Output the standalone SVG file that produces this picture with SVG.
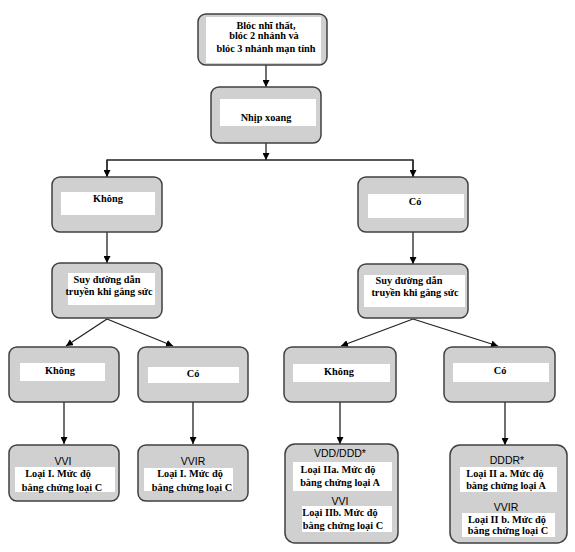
<svg xmlns="http://www.w3.org/2000/svg" width="575" height="552" viewBox="0 0 575 552">
<style>
.box{fill:#d0d0d0;stroke:#404040;stroke-width:1.5}
.in{fill:#ffffff}
.t{font-family:"Liberation Serif","Times New Roman",serif;font-weight:bold;font-size:10.3px;fill:#000;text-anchor:middle}
.a{font-family:"Liberation Sans",Arial,sans-serif;font-size:10.5px;fill:#000;text-anchor:middle}
.c{stroke:#222;stroke-width:1.3;fill:none}
</style>
<defs>
<marker id="ah" viewBox="0 0 10 10" refX="10" refY="5" markerWidth="7" markerHeight="7" orient="auto" markerUnits="userSpaceOnUse">
<path d="M0,0 L10,5 L0,10 z" fill="#000"/>
</marker>
</defs>
<rect width="575" height="552" fill="#fff"/>
<g id="connectors">
<line class="c" x1="266" y1="65" x2="266" y2="87" marker-end="url(#ah)"/>
<line class="c" x1="266" y1="143" x2="266" y2="160" marker-end="url(#ah)"/>
<polyline class="c" points="107,177 107,160 413,160 413,177"/>
<line class="c" x1="107" y1="160" x2="107" y2="177" marker-end="url(#ah)"/>
<line class="c" x1="413" y1="160" x2="413" y2="177" marker-end="url(#ah)"/>
<line class="c" x1="107" y1="232" x2="107" y2="263" marker-end="url(#ah)"/>
<line class="c" x1="413" y1="232" x2="413" y2="264" marker-end="url(#ah)"/>
<line class="c" x1="107" y1="319" x2="66" y2="346" marker-end="url(#ah)"/>
<line class="c" x1="107" y1="319" x2="173" y2="346" marker-end="url(#ah)"/>
<line class="c" x1="413" y1="319" x2="341" y2="346" marker-end="url(#ah)"/>
<line class="c" x1="413" y1="319" x2="498" y2="346" marker-end="url(#ah)"/>
<line class="c" x1="64" y1="402" x2="64" y2="444" marker-end="url(#ah)"/>
<line class="c" x1="193" y1="402" x2="193" y2="444" marker-end="url(#ah)"/>
<line class="c" x1="340" y1="402" x2="340" y2="444" marker-end="url(#ah)"/>
<line class="c" x1="505" y1="402" x2="505" y2="445" marker-end="url(#ah)"/>
</g>
<g id="n-bloc">
<rect class="box" x="198" y="14" width="129" height="51" rx="8"/>
<rect class="in" x="206" y="17" width="115" height="46"/>
<text class="t" x="266" y="29">Blóc nhĩ thất,</text>
<text class="t" x="264" y="39">blóc 2 nhánh và</text>
<text class="t" x="266" y="52">blóc 3 nhánh mạn tính</text>
</g>
<g id="n-nhip">
<rect class="box" x="211" y="87" width="110" height="56" rx="8"/>
<rect class="in" x="220" y="99" width="96" height="27"/>
<text class="t" x="266" y="121">Nhịp xoang</text>
</g>
<g id="n-khong1">
<rect class="box" x="52" y="177" width="110" height="55" rx="8"/>
<rect class="in" x="61" y="192" width="94" height="23"/>
<text class="t" x="108" y="202">Không</text>
</g>
<g id="n-co1">
<rect class="box" x="358" y="177" width="110" height="55" rx="8"/>
<rect class="in" x="368" y="194" width="96" height="24"/>
<text class="t" x="415" y="205">Có</text>
</g>
<g id="n-suy1">
<rect class="box" x="52" y="263" width="110" height="55" rx="8"/>
<rect class="in" x="68" y="273" width="87" height="32"/>
<text class="t" x="107" y="283">Suy đường dẫn</text>
<text class="t" x="109" y="295">truyền khi gắng sức</text>
</g>
<g id="n-suy2">
<rect class="box" x="358" y="264" width="110" height="54" rx="8"/>
<rect class="in" x="364" y="275" width="101" height="32"/>
<text class="t" x="409" y="284">Suy đường dẫn</text>
<text class="t" x="415" y="296">truyền khi gắng sức</text>
</g>
<g id="n-khong2">
<rect class="box" x="9" y="347" width="110" height="55" rx="8"/>
<rect class="in" x="20" y="363" width="85" height="18"/>
<text class="t" x="60" y="374">Không</text>
</g>
<g id="n-co2">
<rect class="box" x="138" y="347" width="110" height="55" rx="8"/>
<rect class="in" x="148" y="367" width="91" height="16"/>
<text class="t" x="193" y="377">Có</text>
</g>
<g id="n-khong3">
<rect class="box" x="284" y="347" width="112" height="55" rx="8"/>
<rect class="in" x="293" y="364" width="97" height="18"/>
<text class="t" x="339" y="375">Không</text>
</g>
<g id="n-co3">
<rect class="box" x="444" y="347" width="111" height="55" rx="8"/>
<rect class="in" x="453" y="363" width="96" height="19"/>
<text class="t" x="500" y="374">Có</text>
</g>
<g id="n-vvi">
<rect class="box" x="9" y="445" width="110" height="56" rx="8"/>
<rect class="in" x="15" y="467" width="100" height="25"/>
<text class="a" x="63" y="465">VVI</text>
<text class="t" x="58" y="477">Loại I. Mức độ</text>
<text class="t" x="62" y="491">bằng chứng loại C</text>
</g>
<g id="n-vvir">
<rect class="box" x="138" y="445" width="110" height="56" rx="8"/>
<rect class="in" x="144" y="468" width="89" height="23"/>
<text class="a" x="193" y="465">VVIR</text>
<text class="t" x="190" y="477">Loại I. Mức độ</text>
<text class="t" x="192" y="491">bằng chứng loại C</text>
</g>
<g id="n-vdd">
<rect class="box" x="285" y="444" width="113" height="99" rx="10"/>
<rect class="in" x="293" y="462" width="99" height="29"/>
<rect class="in" x="302" y="506" width="90" height="26"/>
<text class="a" x="340" y="457">VDD/DDD*</text>
<text class="t" x="338" y="473">Loại IIa. Mức độ</text>
<text class="t" x="340" y="486">bằng chứng loại A</text>
<text class="a" x="340" y="505">VVI</text>
<text class="t" x="340" y="516">Loại IIb. Mức độ</text>
<text class="t" x="343" y="529">bằng chứng loại C</text>
</g>
<g id="n-dddr">
<rect class="box" x="450" y="445" width="117" height="98" rx="10"/>
<rect class="in" x="460" y="467" width="97" height="25"/>
<rect class="in" x="462" y="513" width="93" height="24"/>
<text class="a" x="507" y="464">DDDR*</text>
<text class="t" x="505" y="477">Loại II a. Mức độ</text>
<text class="t" x="506" y="489">bằng chứng loại A</text>
<text class="a" x="506" y="511">VVIR</text>
<text class="t" x="507" y="523">Loại II b. Mức độ</text>
<text class="t" x="508" y="534">bằng chứng loại C</text>
</g>
</svg>
